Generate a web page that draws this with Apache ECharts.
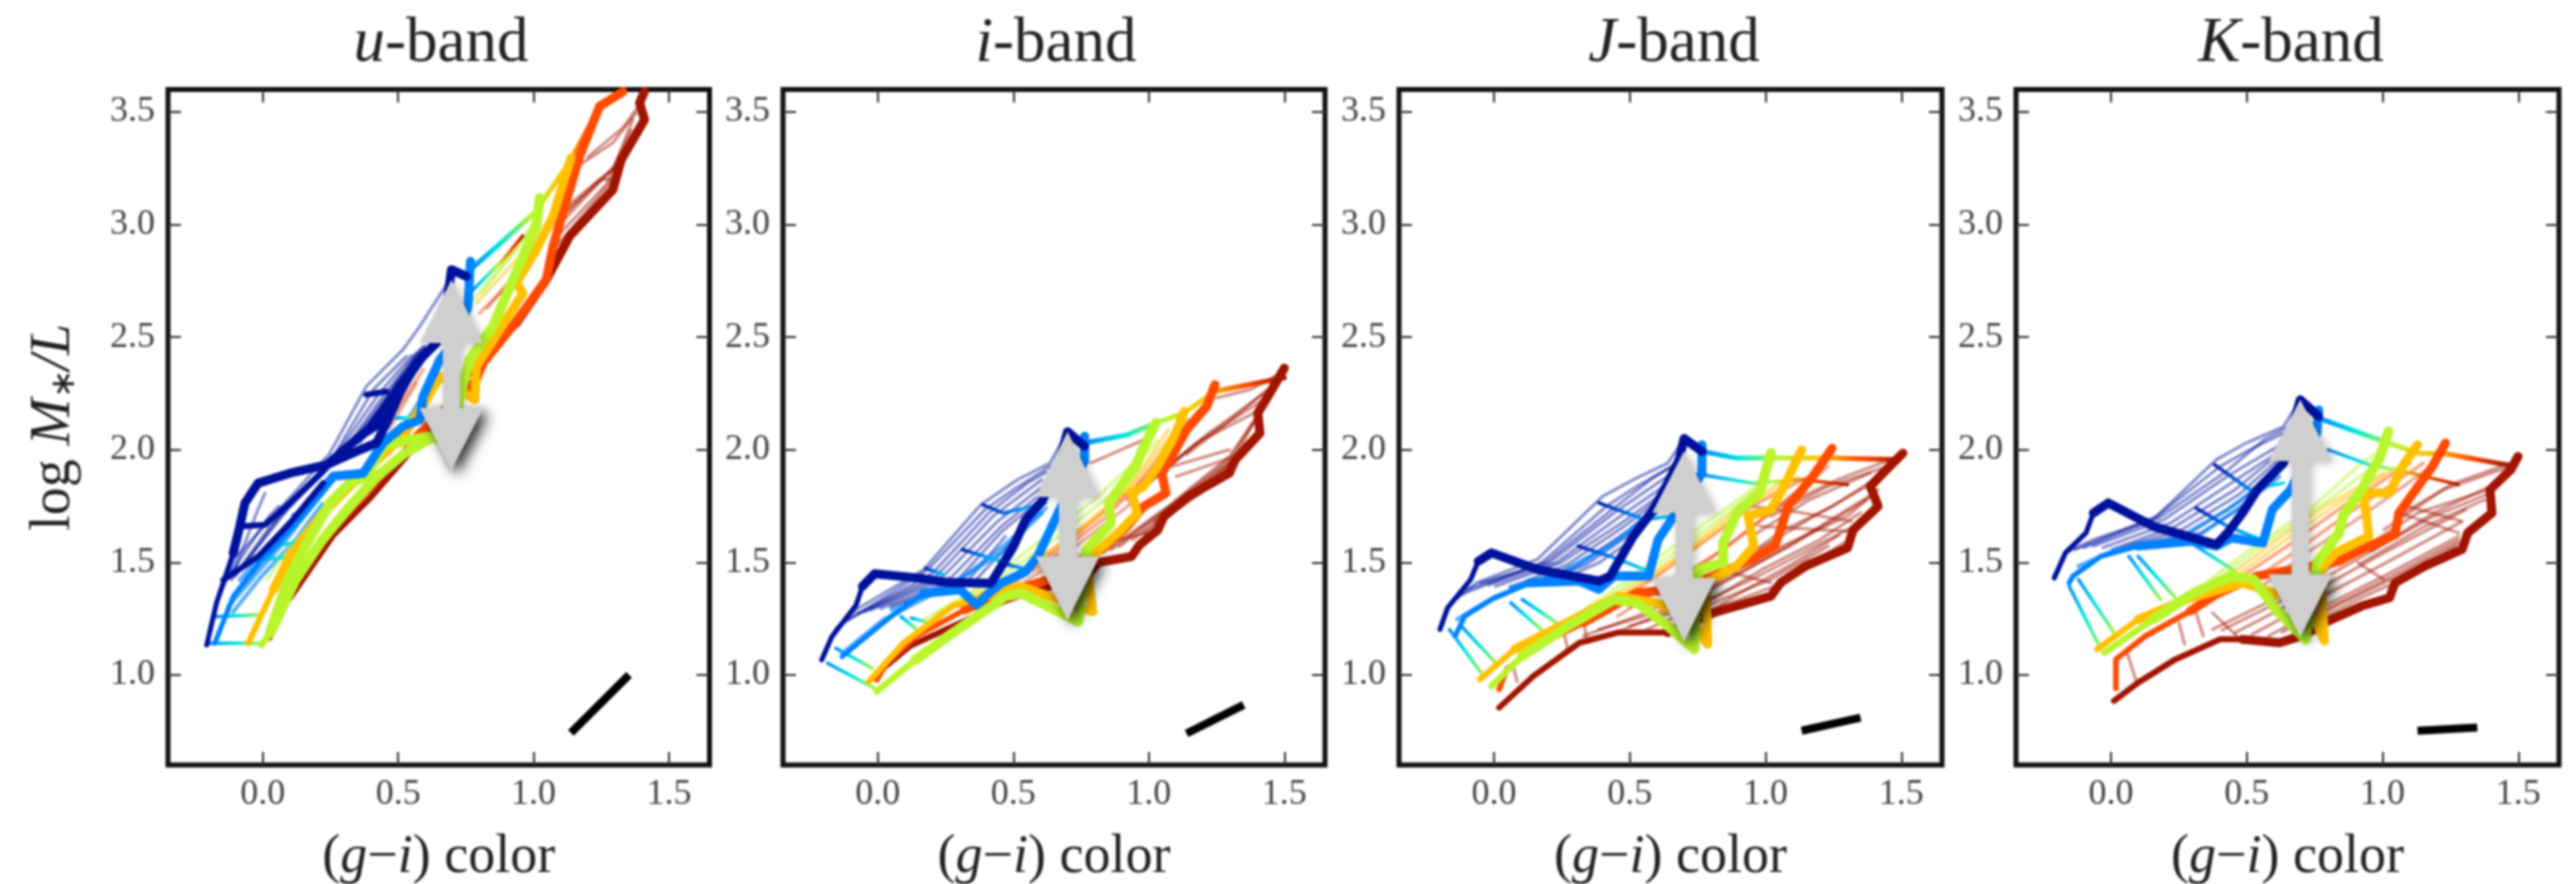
<!DOCTYPE html>
<html><head><meta charset="utf-8">
<style>html,body{margin:0;padding:0;background:#fff}#chart{width:2575px;height:884px;filter:blur(0.9px)}</style>
<script src="https://cdn.jsdelivr.net/npm/echarts@6/dist/echarts.min.js"></script>
</head><body><div id="chart"></div>
<script>
// ---------- axis data ----------
const xTicks=[0,0.5,1.0,1.5];
const yTicks=[1.0,1.5,2.0,2.5,3.0,3.5];
const xRange=[-0.35,1.65];
const yRange=[0.6,3.6];
const bandLetters=['u','i','J','K'];

// ---------- u-band ----------
const uDarkBlue=[[-.207,1.133],[-.171,1.319],[-.109,1.541],[-.085,1.659],[-.066,1.763],[-.017,1.852],[.1,1.896],[.235,1.933],[.346,1.993],[.42,2.03],[.469,2.148],[.506,2.252],[.567,2.385],[.641,2.474],[.68,2.65],[.697,2.8],[.752,2.77]];
const uAzure=[[-.177,1.141],[-.109,1.348],[.014,1.541],[.149,1.719],[.26,1.882],[.371,1.896],[.444,2.03],[.518,2.104],[.58,2.133],[.592,2.237],[.654,2.4],[.72,2.5],[.758,2.637],[.767,2.837]];
const uLime=[[-.005,1.133],[.026,1.185],[.088,1.407],[.162,1.585],[.248,1.763],[.321,1.852],[.383,1.882],[.444,2.015],[.543,2.044],[.617,2.059],[.7,2.03],[.727,2.237],[.764,2.4],[.85,2.548],[.924,2.755],[1.01,2.992],[1.023,3.118]];
const uLimeBand=[[.03,1.19],[.12,1.42],[.22,1.6],[.33,1.76],[.42,1.88],[.52,1.98],[.62,2.05]];
const uAmber=[[-.054,1.141],[.039,1.378],[.1,1.526],[.223,1.719],[.371,1.896],[.518,2.059],[.604,2.222],[.654,2.326],[.783,2.222],[.789,2.37],[.875,2.533],[.961,2.696],[.936,2.74],[1.01,2.888],[1.072,3.037],[1.139,3.296]];
const uOrange=[[.026,1.163],[.051,1.23],[.149,1.467],[.26,1.645],[.383,1.807],[.518,1.985],[.543,2.03],[.789,2.311],[.813,2.385],[.93,2.56],[1.047,2.755],[1.072,2.903],[1.17,3.303],[1.244,3.525],[1.33,3.59]];
const uDarkRed=[[.1,1.34],[.26,1.62],[.4,1.79],[.53,1.97],[.592,2.05],[.826,2.444],[.937,2.563],[1.047,2.755],[1.133,2.948],[1.293,3.155],[1.324,3.288],[1.41,3.466],[1.392,3.54],[1.41,3.592]];
const uBranches=[[[-.085,1.659],[.008,1.667],[.1,1.763],[.235,1.919]],[[-.146,1.422],[-.017,1.526],[.1,1.674],[.223,1.852]],[[.235,1.94],[.39,2.1],[.5,2.28],[.6,2.44]],[[.29,2.0],[.42,2.1],[.53,2.3],[.63,2.47]],[[.26,1.96],[.37,2.06],[.48,2.2],[.56,2.37]],[[.383,2.245],[.457,2.259]]];
const uBlueFaded=[[[-.207,1.133],[-.171,1.319],[-.1,1.52],[.248,1.985],[.383,2.282],[.518,2.445],[.58,2.548],[.69,2.755]],[[-.109,1.452],[-.023,1.719],[.008,1.807]],[[-.115,1.422],[.026,1.659],[.162,1.837],[.248,1.956]],[[-.085,1.467],[.1,1.748],[.248,1.941]],[[.272,1.993],[.408,2.267],[.53,2.415]],[[.297,1.993],[.444,2.237],[.567,2.43]],[[.321,2.015],[.469,2.237],[.592,2.459]],[[.358,2.03],[.494,2.296],[.617,2.459]],[[-.13,1.43],[.02,1.7],[.06,1.75]],[[-.1,1.44],[.06,1.7],[.22,1.89]],[[.284,2.0],[.43,2.25],[.55,2.42]],[[.31,2.0],[.456,2.237],[.58,2.445]],[[.34,2.02],[.48,2.27],[.6,2.46]]];
const uAzureFaded=[[[-.085,1.422],[.075,1.644],[.223,1.837]],[[-.048,1.437],[.1,1.659],[.198,1.793]],[[-.13,1.3],[-.03,1.44],[.1,1.62],[.2,1.78]],[[-.11,1.28],[-.01,1.43],[.12,1.6],[.22,1.76]],[[.46,2.02],[.55,2.16],[.64,2.34]]];
const uWarmFaded=[[[.014,1.422],[.1,1.57],[.211,1.719]],[[.062,1.395],[.161,1.57],[.272,1.793]],[[.494,2.178],[.592,2.356]],[[.469,2.096],[.567,2.296]],[[.777,2.666],[.937,2.888],[1.023,3.05]],[[.789,2.651],[.949,2.859]],[[.801,2.607],[.973,2.815],[1.084,3.022]],[[.83,2.63],[.98,2.85],[1.06,3.0]],[[.81,2.7],[.92,2.87],[1.0,3.0]]];
const uRedFaded=[[[1.084,3.022],[1.293,3.244],[1.367,3.466]],[[1.084,3.007],[1.244,3.2],[1.306,3.2]],[[1.109,3.066],[1.318,3.274]],[[1.182,3.274],[1.293,3.363],[1.379,3.496]],[[1.084,2.903],[1.293,3.2]],[[1.09,2.95],[1.27,3.18],[1.36,3.42]],[[1.12,3.03],[1.3,3.26],[1.39,3.45]],[[1.2,3.3],[1.33,3.43],[1.39,3.53]]];
const uCrossLow=[[[-.195,1.141],[-.005,1.141]],[[-.171,1.259],[-.011,1.267]],[[-.017,1.511],[.125,1.526]],[[.039,1.57],[.162,1.6]],[[.112,1.711],[.174,1.733]],[[.494,2.141],[.555,2.141]]];
const uCrossBlue=[];
const uCrossTop=[[[.767,2.8],[.89,2.93],[1.01,3.06],[1.139,3.29],[1.244,3.52],[1.33,3.59]],[[.777,2.71],[.887,2.844],[.96,2.95]]];
const uSlope=[[1.138,.7425],[1.353,1.0]];
const uArrow=[.697,2.755,2.474,2.185,1.911];

// ---------- i-band ----------
const iDarkBlue=[[-.207,1.067],[-.17,1.17],[-.08,1.311],[-.057,1.393],[-.012,1.449],[.154,1.43],[.259,1.41],[.417,1.407],[.455,1.481],[.5,1.57],[.545,1.689],[.605,1.77],[.66,1.9],[.7,2.08],[.763,2.015]];
const iAzure=[[-.132,1.081],[-.057,1.156],[.048,1.259],[.169,1.363],[.304,1.378],[.364,1.311],[.409,1.363],[.455,1.407],[.545,1.459],[.59,1.526],[.665,1.719],[.72,1.85],[.763,1.95],[.763,2.06]];
const iLime=[[-.004,.926],[.139,1.067],[.274,1.185],[.47,1.348],[.53,1.363],[.74,1.237],[.77,1.556],[.86,1.674],[.853,1.763],[.95,1.926],[.988,2.03],[1.026,2.119]];
const iAmber=[[-.034,.97],[.094,1.141],[.274,1.304],[.394,1.348],[.53,1.393],[.793,1.281],[.77,1.496],[.823,1.563],[.898,1.644],[.958,1.719],[.936,1.807],[.98,1.837],[1.033,1.926],[1.094,2.059],[1.131,2.17]];
const iOrange=[[-.004,.978],[.033,1.052],[.139,1.17],[.32,1.289],[.47,1.363],[.62,1.42],[.77,1.526],[.83,1.563],[.92,1.659],[.98,1.748],[1.063,1.807],[1.048,1.896],[1.071,1.941],[1.139,2.089],[1.214,2.193],[1.244,2.289]];
const iDarkRed=[[.03,1.04],[.12,1.13],[.32,1.24],[.47,1.33],[.62,1.39],[.77,1.44],[.815,1.5],[.936,1.526],[.966,1.578],[1.033,1.644],[1.056,1.704],[1.146,1.793],[1.297,1.896],[1.319,1.956],[1.41,2.074],[1.402,2.163],[1.447,2.252],[1.5,2.363]];
const iBlueFaded=[[[-.207,1.067],[-.155,1.207],[-.072,1.296],[.169,1.467],[.38,1.756],[.515,1.867],[.635,1.941],[.7,2.08]],[[-.147,1.215],[.184,1.467],[.394,1.733],[.5,1.822],[.635,1.926]],[[-.072,1.274],[.214,1.437],[.424,1.704],[.605,1.867]],[[-.027,1.289],[.274,1.437],[.455,1.659],[.59,1.793]],[[.048,1.304],[.334,1.422],[.47,1.615]],[[-.11,1.245],[.2,1.45],[.41,1.72],[.55,1.85],[.62,1.9]],[[-.05,1.28],[.24,1.437],[.44,1.68],[.6,1.83]],[[.01,1.295],[.3,1.43],[.46,1.64],[.58,1.76]],[[.1,1.32],[.36,1.42],[.5,1.6]]];
const iAzureFaded=[[[-.132,1.096],[.018,1.244],[.259,1.393],[.455,1.541],[.605,1.719]],[[.05,1.29],[.3,1.42],[.47,1.58],[.62,1.74]]];
const iWarmFaded=[[[.169,1.244],[.379,1.393],[.605,1.6],[.8,1.778],[.981,1.985]],[[.259,1.289],[.47,1.422],[.695,1.6],[.921,1.822],[1.071,2.089]],[[.349,1.319],[.56,1.467],[.77,1.659],[.951,1.837],[1.146,2.133]],[[.44,1.333],[.665,1.511],[.921,1.748],[1.221,2.207]],[[.21,1.265],[.42,1.41],[.65,1.6],[.86,1.8],[1.03,2.04]],[[.3,1.305],[.51,1.445],[.73,1.63],[.93,1.83],[1.11,2.11]],[[.39,1.33],[.61,1.49],[.84,1.7],[1.05,1.95],[1.18,2.17]]];
const iRedFaded=[[[.83,1.541],[1.071,1.748],[1.297,1.97],[1.417,2.178]],[[.891,1.57],[1.116,1.778],[1.312,1.956],[1.387,2.119]],[[.981,1.63],[1.191,1.807],[1.312,1.926]],[[1.071,1.733],[1.221,1.867],[1.402,2.044]],[[.921,1.778],[1.176,2.03],[1.387,2.163]],[[1.071,1.926],[1.221,2.074],[1.462,2.281]],[[1.086,1.926],[1.297,2.0]],[[1.101,1.881],[1.297,1.963]],[[.83,1.585],[1.041,1.644]],[[.785,1.941],[.981,2.044]],[[.86,1.555],[1.09,1.76],[1.3,1.96],[1.4,2.15]],[[.94,1.6],[1.15,1.79],[1.31,1.94],[1.4,2.08]],[[1.02,1.68],[1.2,1.83],[1.36,1.99]],[[.99,1.84],[1.2,2.05],[1.42,2.22]],[[1.14,1.98],[1.3,2.13],[1.47,2.3]],[[1.25,2.23],[1.38,2.27],[1.47,2.33]]];
const iCrossLow=[[[-.185,1.052],[-.012,.941]],[[-.155,1.119],[-.02,1.03]],[[.086,1.259],[.139,1.207]],[[.124,1.252],[.176,1.237]]];
const iCrossBlue=[[[.387,1.756],[.462,1.719],[.62,1.763]],[[.312,1.556],[.455,1.504]],[[.176,1.474],[.244,1.444]],[[.455,1.496],[.56,1.467]]];
const iCrossTop=[[[.763,2.03],[.92,2.066],[1.026,2.119],[1.13,2.163],[1.244,2.26],[1.5,2.32]]];
const iSlope=[[1.139,.74],[1.35,.867]];
const iArrow=[.70,2.08,1.79,1.526,1.244];

// ---------- J-band ----------
const jDarkBlue=[[-.199,1.202],[-.171,1.298],[-.086,1.424],[-.058,1.505],[-.009,1.542],[.16,1.468],[.386,1.417],[.428,1.439],[.513,1.616],[.583,1.727],[.64,1.852],[.682,1.956],[.70,2.05],[.766,1.993]];
const jAzure=[[-.143,1.173],[-.108,1.261],[-.009,1.335],[.132,1.409],[.315,1.417],[.386,1.38],[.442,1.439],[.569,1.439],[.604,1.6],[.654,1.69],[.766,1.897],[.766,2.022]];
const jLime=[[-.009,.951],[.104,1.084],[.273,1.217],[.442,1.335],[.527,1.32],[.64,1.217],[.738,1.114],[.752,1.468],[.844,1.498],[.844,1.586],[.893,1.719],[.978,1.808],[1.02,1.985]];
const jAmber=[[-.051,.981],[.076,1.114],[.245,1.217],[.456,1.35],[.597,1.32],[.724,1.247],[.787,1.136],[.78,1.41],[.893,1.483],[.957,1.572],[.936,1.705],[1.02,1.734],[1.062,1.823],[1.133,2.0]];
const jOrange=[[.019,.936],[.047,1.025],[.16,1.129],[.33,1.232],[.527,1.365],[.668,1.38],[.808,1.439],[.95,1.513],[1.034,1.572],[1.055,1.645],[1.083,1.749],[1.175,1.882],[1.245,2.007]];
const jDarkRed=[[.019,.855],[.146,.996],[.315,1.143],[.456,1.188],[.64,1.188],[.808,1.276],[1.02,1.35],[1.055,1.409],[1.147,1.483],[1.302,1.564],[1.323,1.645],[1.415,1.749],[1.386,1.838],[1.457,1.926],[1.506,1.985]];
const jBlueFaded=[[[-.199,1.202],[-.164,1.313],[-.065,1.409],[.16,1.513],[.4,1.793],[.513,1.867],[.64,1.941],[.70,2.05]],[[-.136,1.35],[.174,1.498],[.414,1.749],[.527,1.838],[.654,1.926]],[[-.051,1.409],[.203,1.498],[.442,1.719],[.639,1.882]],[[.005,1.394],[.245,1.498],[.47,1.675],[.639,1.823]],[[.104,1.394],[.301,1.483],[.498,1.645],[.625,1.778]],[[.217,1.409],[.386,1.498],[.527,1.616]],[[-.1,1.38],[.19,1.5],[.43,1.73],[.58,1.87],[.66,1.93]],[[-.02,1.4],[.23,1.5],[.46,1.7],[.64,1.85]],[[.06,1.39],[.27,1.49],[.48,1.66],[.63,1.8]],[[.16,1.41],[.34,1.49],[.51,1.63],[.62,1.74]]];
const jAzureFaded=[[[-.136,1.247],[.005,1.35],[.217,1.439],[.442,1.586],[.611,1.749]],[[.06,1.39],[.28,1.46],[.47,1.61],[.63,1.76]]];
const jWarmFaded=[[[.245,1.217],[.442,1.38],[.611,1.527],[.78,1.675],[.95,1.823],[1.02,1.926]],[[.329,1.261],[.527,1.409],[.696,1.542],[.879,1.719],[1.09,1.882]],[[.414,1.306],[.583,1.424],[.752,1.572],[.95,1.749],[1.161,1.882]],[[.456,1.261],[.611,1.38],[.809,1.527],[1.034,1.734],[1.231,1.926]],[[.29,1.24],[.48,1.39],[.65,1.53],[.84,1.7],[1.0,1.86]],[[.37,1.28],[.55,1.41],[.72,1.55],[.91,1.73],[1.12,1.88]],[[.5,1.3],[.65,1.41],[.86,1.57],[1.06,1.76],[1.2,1.9]]];
const jRedFaded=[[[.329,1.173],[.527,1.261],[.809,1.409],[1.034,1.557],[1.302,1.705],[1.415,1.823]],[[.386,1.202],[.639,1.291],[.879,1.439],[1.09,1.572],[1.372,1.778]],[[.498,1.217],[.738,1.306],[.95,1.424],[1.161,1.557],[1.372,1.69]],[[.668,1.232],[.837,1.335],[1.02,1.424],[1.231,1.572]],[[.837,1.306],[1.034,1.394],[1.288,1.586]],[[.95,1.616],[1.161,1.778],[1.386,1.897]],[[1.02,1.705],[1.231,1.838],[1.485,1.941]],[[.95,1.749],[1.133,1.72],[1.316,1.682]],[[.978,1.66],[1.302,1.638]],[[.879,1.453],[1.02,1.409]],[[.256,1.2],[.27,1.12]],[[.07,1.045],[.085,.97]],[[.33,1.232],[.345,1.143]],[[.42,1.175],[.68,1.3],[.92,1.46],[1.12,1.6],[1.39,1.8]],[[.56,1.2],[.78,1.32],[.99,1.47],[1.2,1.6],[1.35,1.72]],[[.75,1.25],[.9,1.36],[1.08,1.48],[1.27,1.62]],[[.87,1.47],[1.06,1.64],[1.25,1.75],[1.39,1.86]],[[.98,1.56],[1.2,1.72],[1.42,1.87]],[[1.06,1.75],[1.27,1.87],[1.47,1.96]]];
const jCrossLow=[[[-.164,1.202],[-.044,1.003]],[[-.115,1.21],[.005,1.055]],[[.062,1.32],[.174,1.202]],[[.104,1.335],[.23,1.232]]];
const jCrossBlue=[[[.386,1.764],[.555,1.69],[.654,1.705]],[[.31,1.572],[.428,1.527],[.555,1.468]]];
const jCrossTop=[[[.766,1.993],[.893,1.963],[1.02,1.963],[1.133,1.963],[1.245,1.963],[1.493,1.956]],[[.766,1.889],[.95,1.852],[1.133,1.867],[1.302,1.845]]];
const jSlope=[[1.133,.752],[1.35,.81]];
const jArrow=[.70,1.993,1.72,1.43,1.15];

// ---------- K-band ----------
const kDarkBlue=[[-.209,1.431],[-.168,1.542],[-.092,1.631],[-.065,1.719],[-.01,1.764],[.155,1.66],[.388,1.579],[.429,1.631],[.484,1.719],[.539,1.823],[.635,1.941],[.697,2.222],[.765,2.148]];
const kAzure=[[-.154,1.409],[-.14,1.439],[-.037,1.527],[.1,1.572],[.292,1.594],[.388,1.572],[.443,1.609],[.559,1.586],[.594,1.734],[.662,1.823],[.758,2.074],[.765,2.177]];
const kLime=[[-.024,1.099],[.155,1.247],[.306,1.365],[.443,1.439],[.525,1.424],[.607,1.291],[.717,1.158],[.758,1.498],[.84,1.631],[.854,1.705],[.923,1.823],[.992,1.97],[1.022,2.081]];
const kAmber=[[-.051,1.114],[.1,1.247],[.278,1.335],[.484,1.409],[.635,1.35],[.745,1.261],[.786,1.151],[.772,1.468],[.827,1.542],[.95,1.616],[.93,1.808],[1.026,1.808],[1.074,1.926],[1.129,2.022]];
const kOrange=[[.018,.94],[.018,1.069],[.127,1.173],[.292,1.284],[.39,1.36],[.539,1.44],[.72,1.48],[.84,1.505],[.923,1.557],[1.046,1.623],[1.06,1.719],[1.184,1.926],[1.232,2.03]];
const kDarkRed=[[.011,.885],[.1,.966],[.237,1.069],[.402,1.158],[.484,1.158],[.621,1.143],[.717,1.18],[.786,1.232],[.923,1.306],[1.026,1.343],[1.046,1.409],[1.156,1.483],[1.293,1.557],[1.314,1.631],[1.403,1.719],[1.396,1.823],[1.472,1.911],[1.499,1.97]];
const kBlueFaded=[[[-.209,1.431],[-.168,1.542],[-.065,1.601],[.155,1.69],[.388,1.956],[.498,2.03],[.635,2.103],[.697,2.222]],[[-.133,1.557],[.169,1.705],[.402,1.926],[.511,2.0],[.635,2.074]],[[-.065,1.572],[.196,1.69],[.429,1.882],[.635,2.03]],[[.004,1.557],[.237,1.66],[.457,1.823],[.621,1.985]],[[.072,1.572],[.292,1.631],[.484,1.778],[.607,1.926]],[[-.1,1.565],[.18,1.7],[.42,1.9],[.57,2.05],[.65,2.1]],[[-.03,1.565],[.22,1.675],[.44,1.85],[.63,2.0]],[[.04,1.565],[.26,1.645],[.47,1.8],[.61,1.95]],[[.14,1.58],[.33,1.63],[.5,1.76],[.6,1.89]]];
const kAzureFaded=[[[-.12,1.483],[.018,1.557],[.237,1.601],[.429,1.734],[.594,1.882]],[[.1,1.57],[.3,1.6],[.47,1.74],[.62,1.88]]];
const kWarmFaded=[[[.319,1.38],[.511,1.557],[.731,1.734],[.923,1.941],[.978,1.985]],[[.402,1.409],[.594,1.586],[.786,1.749],[1.005,1.897]],[[.484,1.439],[.649,1.572],[.854,1.749],[1.101,1.941]],[[.539,1.38],[.704,1.527],[.923,1.705],[1.197,1.941]],[[.36,1.395],[.55,1.57],[.76,1.74],[.96,1.92]],[[.44,1.42],[.62,1.58],[.82,1.75],[1.05,1.92]],[[.51,1.41],[.68,1.55],[.89,1.73],[1.15,1.94]]];
const kRedFaded=[[[.374,1.202],[.649,1.365],[.923,1.557],[1.129,1.719],[1.389,1.823]],[[.457,1.188],[.717,1.35],[1.005,1.542],[1.307,1.734]],[[.58,1.173],[.786,1.306],[1.005,1.439],[1.28,1.616]],[[.676,1.202],[.854,1.321],[1.033,1.424],[1.28,1.586]],[[.923,1.498],[1.156,1.66],[1.376,1.778]],[[1.005,1.645],[1.225,1.823],[1.472,1.926]],[[1.094,1.749],[1.293,1.682]],[[1.081,1.712],[1.28,1.631]],[[.909,1.498],[1.005,1.424]],[[.374,1.276],[.463,1.173]],[[.313,1.276],[.34,1.173]],[[.25,1.232],[.271,1.136]],[[.059,1.099],[.093,.973]],[[.41,1.2],[.68,1.36],[.96,1.55],[1.18,1.7],[1.38,1.8]],[[.52,1.18],[.75,1.33],[1.0,1.49],[1.29,1.68]],[[.63,1.19],[.82,1.31],[1.02,1.43],[1.28,1.6]],[[.96,1.55],[1.19,1.72],[1.4,1.84]],[[1.05,1.7],[1.26,1.85],[1.47,1.94]],[[.73,1.22],[.9,1.33],[1.1,1.44],[1.27,1.57]]];
const kCrossLow=[[[-.154,1.394],[-.037,1.114]],[[-.12,1.424],[.011,1.188]],[[.066,1.527],[.182,1.335]],[[.1,1.527],[.237,1.343]],[[.313,1.572],[.457,1.461]]];
const kCrossBlue=[[[.381,1.934],[.511,1.823],[.635,1.852]],[[.313,1.741],[.429,1.66],[.553,1.601]]];
const kCrossTop=[[[.765,2.14],[1.005,2.037],[1.129,1.985],[1.232,1.982],[1.458,1.933]],[[.8,2.0],[.95,1.934],[1.101,1.897],[1.279,1.845]]];
const kSlope=[[1.129,.752],[1.349,.767]];
const kArrow=[.697,2.222,1.95,1.446,1.17];

// ---------- styling ----------
const panels=[
 {left:168,right:709.5,center:436,thin:[2,2,1,1,6,5],dark:uDarkBlue,azure:uAzure,lime:uLime,amber:uAmber,orange:uOrange,red:uDarkRed,blueF:uBlueFaded,azureF:uAzureFaded,warmF:uWarmFaded,redF:uRedFaded,low:uCrossLow,blue:uCrossBlue,top:uCrossTop,slope:uSlope,arrow:uArrow,branches:uBranches,limeBand:uLimeBand},
 {left:783,right:1325,center:1051,thin:[3,3,1,3,3,4],dark:iDarkBlue,azure:iAzure,lime:iLime,amber:iAmber,orange:iOrange,red:iDarkRed,blueF:iBlueFaded,azureF:iAzureFaded,warmF:iWarmFaded,redF:iRedFaded,low:iCrossLow,blue:iCrossBlue,top:iCrossTop,slope:iSlope,arrow:iArrow,branches:[],limeBand:null},
 {left:1399,right:1942,center:1669,thin:[3,3,1,1,3,4],dark:jDarkBlue,azure:jAzure,lime:jLime,amber:jAmber,orange:jOrange,red:jDarkRed,blueF:jBlueFaded,azureF:jAzureFaded,warmF:jWarmFaded,redF:jRedFaded,low:jCrossLow,blue:jCrossBlue,top:jCrossTop,slope:jSlope,arrow:jArrow,branches:[],limeBand:null},
 {left:2016,right:2559,center:2286,thin:[3,3,1,1,3,4],dark:kDarkBlue,azure:kAzure,lime:kLime,amber:kAmber,orange:kOrange,red:kDarkRed,blueF:kBlueFaded,azureF:kAzureFaded,warmF:kWarmFaded,redF:kRedFaded,low:kCrossLow,blue:kCrossBlue,top:kCrossTop,slope:kSlope,arrow:kArrow,branches:[],limeBand:null}
];
const C={dark:'#00129c',azure:'#0082ff',cyan:'#00e6e0',lime:'#b9f52c',amber:'#ffc000',orange:'#ff4a00',red:'#a01400'};
const grad=(stops)=>new echarts.graphic.LinearGradient(0,0,1,0,stops.map((c,i)=>({offset:i/(stops.length-1),color:c})));
const gridTop=89.5,gridBottom=119;
const tickColor='#333';
const grids=[],xAxes=[],yAxes=[],titles=[],series=[];
const tickAxis=(extra)=>Object.assign({type:'value',axisLine:{show:false,onZero:false},splitLine:{show:false}},extra);
const serif='Liberation Serif';

panels.forEach((p,i)=>{
  grids.push({left:p.left,width:p.right-p.left,top:gridTop,bottom:gridBottom,show:true,borderColor:'#111',borderWidth:5,backgroundColor:'#fff',outerBoundsMode:'none'});
  titles.push({text:'{i|'+bandLetters[i]+'}-band',left:p.center,top:8,textAlign:'center',
    textStyle:{fontFamily:serif,fontWeight:'normal',fontSize:63,color:'#222',rich:{i:{fontFamily:serif,fontStyle:'italic',fontSize:63,color:'#222'}}}});
  const xt={show:true,inside:true,length:13,customValues:xTicks,lineStyle:{color:tickColor,width:2}};
  const yt={show:true,inside:true,length:13,customValues:yTicks,lineStyle:{color:tickColor,width:2}};
  xAxes.push(tickAxis({gridIndex:i,position:'bottom',min:xRange[0],max:xRange[1],axisTick:xt,
    axisLabel:{show:true,customValues:xTicks,formatter:v=>v.toFixed(1),fontFamily:serif,fontSize:36,color:'#444',margin:12},
    name:'({i|g}−{i|i}) color',nameLocation:'middle',nameGap:66,
    nameTextStyle:{fontFamily:serif,fontSize:54,color:'#222',rich:{i:{fontFamily:serif,fontStyle:'italic',fontSize:54,color:'#222'}}}}));
  xAxes.push(tickAxis({gridIndex:i,position:'top',min:xRange[0],max:xRange[1],axisTick:xt,axisLabel:{show:false}}));
  const yLeft={gridIndex:i,position:'left',min:yRange[0],max:yRange[1],axisTick:yt,
    axisLabel:{show:true,customValues:yTicks,formatter:v=>v.toFixed(1),fontFamily:serif,fontSize:36,color:'#444',margin:13}};
  if(i===0){Object.assign(yLeft,{name:'log {i|M}{s|∗}{i|/L}',nameLocation:'middle',nameGap:86,
    nameTextStyle:{fontFamily:serif,fontSize:56,color:'#222',rich:{i:{fontFamily:serif,fontStyle:'italic',fontSize:56,color:'#222'},s:{fontFamily:serif,fontSize:34,color:'#222',verticalAlign:'bottom'}}}});}
  yAxes.push(tickAxis(yLeft));
  yAxes.push(tickAxis({gridIndex:i,position:'right',min:yRange[0],max:yRange[1],axisTick:yt,axisLabel:{show:false}}));

  const add=(data,color,width,opacity)=>series.push({type:'line',xAxisIndex:i*2,yAxisIndex:i*2,data,symbol:'none',silent:true,animation:false,
    lineStyle:{color,width,opacity,cap:'round',join:'round'}});
  const track=(data,color,thinCount,thinW,w)=>{add(data.slice(0,thinCount+1),color,thinW,1);add(data.slice(thinCount),color,w,1);};
  p.redF.forEach(d=>add(d,C.red,3,.48));
  p.blueF.forEach(d=>add(d,C.dark,3,.48));
  p.azureF.forEach(d=>add(d,C.azure,4,.65));
  p.warmF.forEach((d,k)=>add(d,[C.lime,C.amber,C.orange,'#d2563a'][k%4],3.4,.5));
  p.low.forEach(d=>add(d,grad([C.azure,C.cyan,C.lime]),3.4,1));
  p.blue.forEach(d=>add(d,grad([C.dark,C.azure,C.cyan]),3.4,1));
  p.top.forEach((d,k)=>add(d,grad(k===0?[C.azure,C.cyan,C.lime,C.amber,C.orange,C.red]:[C.azure,C.cyan,C.lime,C.orange,C.red]),k===0?5:3.4,1));
  track(p.red,C.red,p.thin[5],6,9);
  track(p.orange,C.orange,p.thin[4],5.5,9);
  track(p.amber,C.amber,p.thin[3],6,9);
  track(p.lime,C.lime,p.thin[2],6.5,10);
  if(p.limeBand) add(p.limeBand,C.lime,10,1);
  track(p.azure,C.azure,p.thin[1],5,9);
  p.branches.forEach(d=>add(d,C.dark,6,1));
  track(p.dark,C.dark,p.thin[0],5,9);
  series.push({type:'line',xAxisIndex:i*2,yAxisIndex:i*2,data:p.slope,symbol:'none',silent:true,animation:false,z:5,
    lineStyle:{color:'#000',width:8,cap:'butt'}});
  series.push({type:'custom',xAxisIndex:i*2,yAxisIndex:i*2,silent:true,animation:false,z:6,clip:false,
    data:[p.arrow],
    renderItem:(params,api)=>{
      const x=api.value(0),t=api.value(1),b1=api.value(2),b2=api.value(3),tip=api.value(4);
      const w=0.117,s=0.032;
      const pts=a=>a.map(q=>api.coord(q));
      const whole=[[x,t],[x+w,b1],[x+s,b1],[x+s,b2],[x+w,b2],[x,tip],[x-w,b2],[x-s,b2],[x-s,b1],[x-w,b1]];
      const head=[[x+w,b2],[x,tip],[x-w,b2]];
      return {type:'group',children:[
        {type:'polygon',shape:{points:pts(head)},style:{fill:'#cfcfcf',shadowColor:'rgba(0,0,0,0.75)',shadowBlur:14,shadowOffsetX:6,shadowOffsetY:6}},
        {type:'polygon',shape:{points:pts(whole)},style:{fill:'#cfcfcf',shadowColor:'rgba(0,0,0,0.25)',shadowBlur:8,shadowOffsetX:3,shadowOffsetY:2}}
      ]};
    }});
});
const chart=echarts.init(document.getElementById('chart'),null,{renderer:'canvas',width:2575,height:884});
chart.setOption({animation:false,backgroundColor:'#fff',title:titles,grid:grids,xAxis:xAxes,yAxis:yAxes,series});
</script></body></html>
